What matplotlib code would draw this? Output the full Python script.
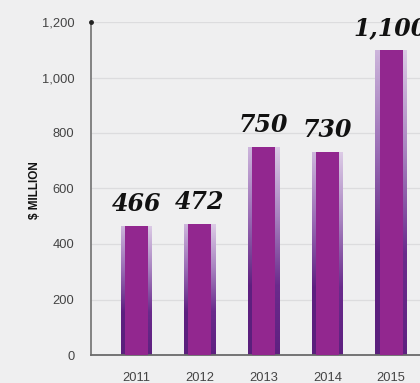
import numpy as np
import matplotlib
matplotlib.use("Agg")
import matplotlib.pyplot as plt
from matplotlib.colors import LinearSegmentedColormap

years = ["2011", "2012", "2013", "2014", "2015"]
values = [466, 472, 750, 730, 1100]
value_labels = ["466", "472", "750", "730", "1,100"]
yticks = [0, 200, 400, 600, 800, 1000, 1200]
ytick_labels = ["0", "200", "400", "600", "800", "1,000", "1,200"]

fig = plt.figure(figsize=(4.20, 3.83), dpi=100)
fig.patch.set_facecolor("#EFEFF0")
ax = fig.add_axes([91/420, 1-355/383, 1-91/420+0.01, (355-22)/383])
ax.set_facecolor("#EFEFF0")

x = np.arange(len(years))
ax.set_xlim(-0.71, 4.52)
ax.set_ylim(0, 1200)

for yv in yticks[1:]:
    ax.axhline(yv, color="#DCDCDE", lw=0.9, zorder=0)

outer_w = 0.49
inner_w = 0.36
cmap_l = LinearSegmentedColormap.from_list("l", ["#CDB6DC", "#9A6DB5", "#5E2080", "#5A1F7C"])
cmap_r = LinearSegmentedColormap.from_list("r", ["#DCCBE6", "#A883C0", "#6A2B8C", "#5E2080"])
grad = np.linspace(0, 1, 256).reshape(-1, 1)

outer = ax.bar(x, values, width=outer_w, color="#8E5BA8", zorder=2, linewidth=0)
for i, (b, v) in enumerate(zip(outer, values)):
    x0 = b.get_x()
    w = b.get_width()
    im = ax.imshow(grad, aspect="auto", cmap=cmap_l, extent=[x0, x0 + w/2, 0, v],
                   origin="upper", zorder=2.5)
    im.set_clip_path(b)
    im2 = ax.imshow(grad, aspect="auto", cmap=cmap_r, extent=[x0 + w/2, x0 + w, 0, v],
                    origin="upper", zorder=2.5)
    im2.set_clip_path(b)
ax.bar(x, values, width=inner_w, color="#92278F", zorder=3, linewidth=0)

for xi, v, lab in zip(x, values, value_labels):
    ax.text(xi, v + 36, lab, ha="center", va="bottom", fontsize=17,
            family="DejaVu Serif", fontweight="bold", style="italic",
            color="#111111", zorder=4)

ax.set_xticks(x)
ax.set_xticklabels(years)
ax.set_yticks(yticks)
ax.set_yticklabels(ytick_labels)
ax.tick_params(axis="both", length=0, labelsize=9.3, labelcolor="#444444",
               labelfontfamily="Liberation Sans")
ax.tick_params(axis="x", pad=12)
ax.tick_params(axis="y", pad=12)

for s in ["top", "right"]:
    ax.spines[s].set_visible(False)
ax.spines["left"].set_color("#7A7A7A")
ax.spines["left"].set_linewidth(1.3)
ax.spines["bottom"].set_color("#6A6A6A")
ax.spines["bottom"].set_linewidth(1.3)
ax.plot([-0.71], [1200], marker="o", ms=2.5, color="#222222", clip_on=False, zorder=5)

fig.text(35/420, 1-190/383, "$ MILLION", rotation=90, ha="center", va="center",
         fontsize=8.5, fontweight="bold", family="Liberation Sans", color="#111111")

fig.savefig("out.png", dpi=100, facecolor=fig.get_facecolor())
